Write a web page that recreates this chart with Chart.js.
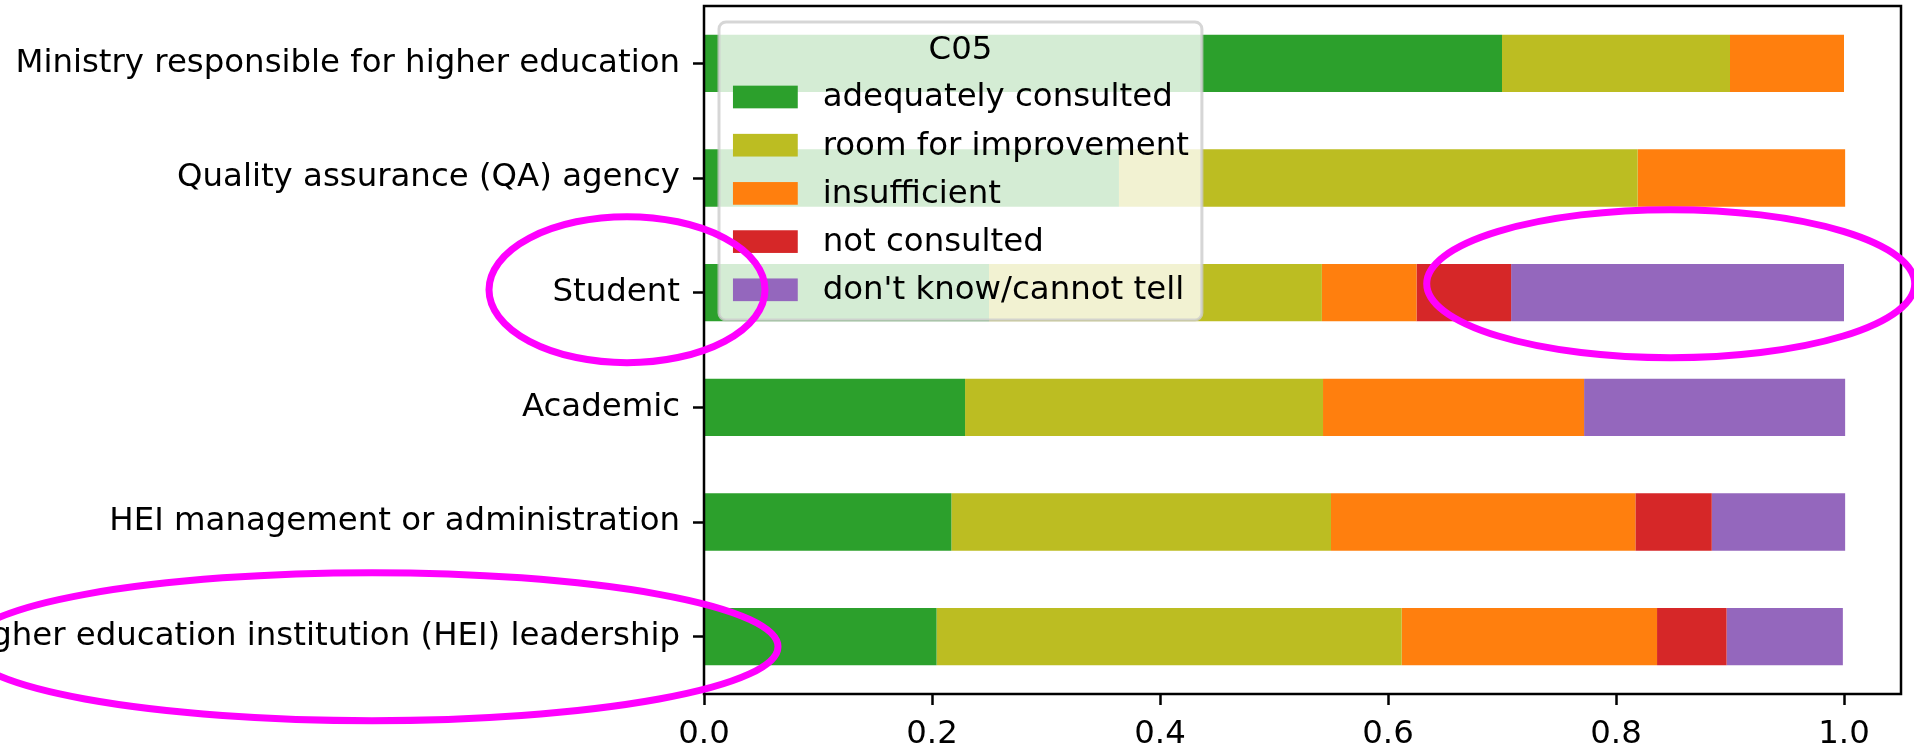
<!DOCTYPE html>
<html>
<head>
<meta charset="utf-8">
<script src="https://cdn.jsdelivr.net/npm/chart.js@4.4.0/dist/chart.umd.min.js"></script>
<style>
body{margin:0;background:#fff;}
#box{width:1914px;height:745px;position:relative;}
</style>
</head>
<body>
<div id="box"><canvas id="myChart"></canvas></div>
<script>
//数据
var categories=['Ministry responsible for higher education','Quality assurance (QA) agency','Student','Academic','HEI management or administration','Higher education institution (HEI) leadership'];
var adequately=[0.700,0.364,0.250,0.229,0.217,0.204];
var room=[0.200,0.455,0.292,0.314,0.333,0.408];
var insufficient=[0.100,0.182,0.083,0.229,0.267,0.224];
var notConsulted=[0,0,0.083,0,0.067,0.061];
var dontKnow=[0,0,0.292,0.229,0.117,0.102];
var seriesNames=['adequately consulted','room for improvement','insufficient','not consulted',"don't know/cannot tell"];
var seriesColors=['#2ca02c','#bcbd22','#ff7f0e','#d62728','#9467bd'];
var xTicks=[0,0.2,0.4,0.6,0.8,1.0];
var legendTitle='C05';

var FONT='"DejaVu Sans"';
var FS=32.4;

//四条边框
var spinePlugin={
	id:'spines',
	afterDatasetsDraw:function(chart){
		var a=chart.chartArea,ctx=chart.ctx;
		ctx.save();
		ctx.strokeStyle='#000';
		ctx.lineWidth=2.5;
		ctx.strokeRect(a.left,a.top,a.right-a.left,a.bottom-a.top);
		ctx.restore();
	}
};

//图例(画在图里)
var legendPlugin={
	id:'innerLegend',
	afterDatasetsDraw:function(chart){
		var a=chart.chartArea,ctx=chart.ctx;
		var ds=chart.data.datasets;
		ctx.save();
		ctx.font=FS+'px '+FONT;
		var maxW=0;
		for(var i=0;i<ds.length;i++){
			maxW=Math.max(maxW,ctx.measureText(ds[i].label).width);
		}
		var pad=0.4*FS,hw=2*FS,hh=0.7*FS,gap=0.8*FS;
		var x0=a.left+15,y0=a.top+16;
		var w=pad+hw+gap+maxW+pad,h=298;
		ctx.beginPath();
		ctx.roundRect(x0,y0,w,h,7);
		ctx.fillStyle='rgba(255,255,255,0.8)';
		ctx.fill();
		ctx.strokeStyle='rgba(204,204,204,0.8)';
		ctx.lineWidth=3;
		ctx.stroke();
		ctx.fillStyle='#000';
		ctx.textBaseline='middle';
		ctx.textAlign='center';
		ctx.fillText(legendTitle,x0+w/2,y0+29);
		ctx.textAlign='left';
		for(var i=0;i<ds.length;i++){
			var cy=y0+75+i*48.2;
			ctx.fillStyle=ds[i].backgroundColor;
			ctx.fillRect(x0+pad+1,cy-hh/2,hw,hh);
			ctx.fillStyle='#000';
			ctx.fillText(ds[i].label,x0+pad+hw+gap,cy+1);
		}
		ctx.restore();
	}
};

//标注的圈
var circlePlugin={
	id:'circles',
	afterDraw:function(chart){
		var ctx=chart.ctx,a=chart.chartArea;
		var xs=chart.scales.x,ys=chart.scales.y;
		var yStu=ys.getPixelForValue(2),yLead=ys.getPixelForValue(5);
		var rings=[
			[a.left-77,yStu-3,138,73],
			[xs.getPixelForValue(0.848),yStu-9,244,74],
			[a.left-332,yLead+10,406,74]
		];
		ctx.save();
		ctx.strokeStyle='#ff00ff';
		ctx.lineWidth=7;
		for(var i=0;i<rings.length;i++){
			ctx.beginPath();
			ctx.ellipse(rings[i][0],rings[i][1],rings[i][2],rings[i][3],0,0,Math.PI*2);
			ctx.stroke();
		}
		ctx.restore();
	}
};

var values=[adequately,room,insufficient,notConsulted,dontKnow];
var datasets=[];
for(var i=0;i<values.length;i++){
	datasets.push({
		label:seriesNames[i],
		data:values[i],
		backgroundColor:seriesColors[i],
		borderWidth:0,
		categoryPercentage:1.0,
		barPercentage:0.5
	});
}

var ctx1=document.getElementById('myChart');
var myChart=new Chart(ctx1,{
	type:'bar',
	data:{labels:categories,datasets:datasets},
	options:{
		indexAxis:'y',
		responsive:true,
		maintainAspectRatio:false,
		animation:false,
		events:[],
		layout:{padding:{top:6,right:13,left:0,bottom:0}},
		plugins:{legend:{display:false},tooltip:{enabled:false}},
		scales:{
			x:{
				type:'linear',
				stacked:true,
				min:0,
				max:1.05,
				afterFit:function(s){s.height=51;s.paddingLeft=0;s.paddingRight=0;},
				afterBuildTicks:function(s){s.ticks=xTicks.map(function(v){return {value:v};});},
				grid:{drawOnChartArea:false,tickLength:11,tickColor:'#000',tickWidth:2.5,color:'#000'},
				border:{display:false},
				ticks:{
					font:{family:FONT,size:FS},
					color:'#000',
					padding:10,
					maxRotation:0,
					callback:function(v){return Number(v).toFixed(1);}
				}
			},
			y:{
				stacked:true,
				afterFit:function(s){s.width=704;s.paddingTop=0;s.paddingBottom=0;},
				grid:{offset:false,drawOnChartArea:false,tickLength:11,tickColor:'#000',tickWidth:2.5,color:'#000'},
				border:{display:false},
				ticks:{font:{family:FONT,size:FS},color:'#000',padding:13,autoSkip:false}
			}
		}
	},
	plugins:[spinePlugin,legendPlugin,circlePlugin]
});
</script>
</body>
</html>
